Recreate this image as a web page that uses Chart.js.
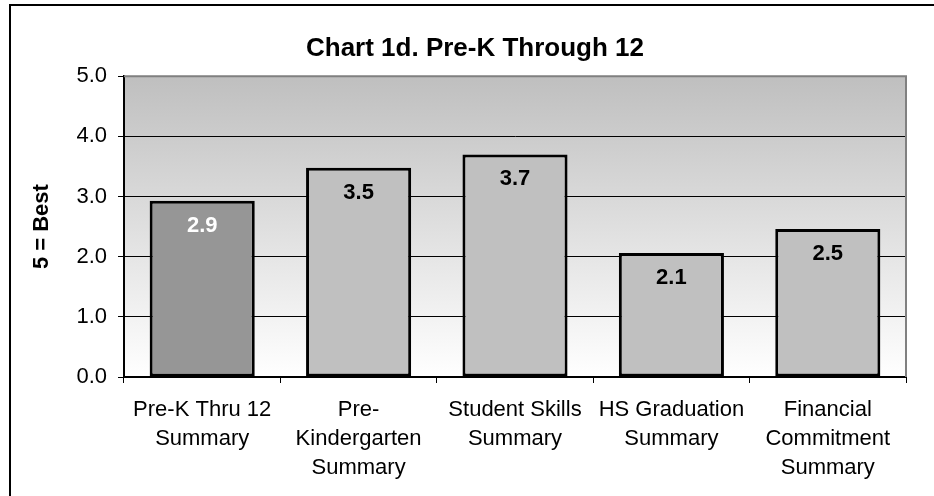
<!DOCTYPE html>
<html>
<head>
<meta charset="utf-8">
<script src="https://cdn.jsdelivr.net/npm/chart.js@4.4.1/dist/chart.umd.min.js"></script>
<style>
  html, body { margin: 0; padding: 0; background: #fff; }
  #wrap { position: relative; width: 934px; height: 496px; }
</style>
</head>
<body>
<div id="wrap"><canvas id="chart"></canvas></div>
<script>
/* ===========================
   DATA
=========================== */
const categories = [
  ["Pre-K Thru 12", "Summary"],
  ["Pre-", "Kindergarten", "Summary"],
  ["Student Skills", "Summary"],
  ["HS Graduation", "Summary"],
  ["Financial", "Commitment", "Summary"]
];
const scores = [2.93, 3.48, 3.70, 2.06, 2.46];
const yTicks = [0, 1, 2, 3, 4, 5];

const FONT = "'Liberation Sans', Arial, Helvetica, sans-serif";

/* ===========================
   PLUGINS
=========================== */
// frame + gradient plot background
const frame = {
  id: "frame",
  beforeDraw(chart) {
    const { ctx, chartArea: a } = chart;
    ctx.save();
    ctx.fillStyle = "#fff";
    ctx.fillRect(0, 0, chart.width, chart.height);
    ctx.fillStyle = "#000";
    ctx.fillRect(9, 4, chart.width - 9, 2);
    ctx.fillRect(9, 4, 2, chart.height - 4);
    const g = ctx.createLinearGradient(0, a.top, 0, a.bottom);
    g.addColorStop(0, "#bfbfbf");
    g.addColorStop(1, "#ffffff");
    ctx.fillStyle = g;
    ctx.fillRect(a.left, a.top, a.right - a.left, a.bottom - a.top);
    ctx.restore();
  },
  beforeDatasetsDraw(chart) {
    const { ctx, chartArea: a } = chart;
    ctx.save();
    ctx.strokeStyle = "#808080";
    ctx.lineWidth = 2;
    ctx.beginPath();
    ctx.moveTo(a.left, a.top);
    ctx.lineTo(a.right, a.top);
    ctx.lineTo(a.right, a.bottom);
    ctx.stroke();
    ctx.restore();
  }
};

// value labels inside the bars
const barLabels = {
  id: "barLabels",
  afterDatasetsDraw(chart) {
    const { ctx } = chart;
    const meta = chart.getDatasetMeta(0);
    ctx.save();
    ctx.font = "bold 22px " + FONT;
    ctx.textAlign = "center";
    ctx.textBaseline = "middle";
    meta.data.forEach((bar, i) => {
      ctx.fillStyle = i === 0 ? "#fff" : "#000";
      ctx.fillText(scores[i].toFixed(1), bar.x, bar.y + 25);
    });
    ctx.restore();
  }
};

/* ===========================
   CHART
=========================== */
new Chart(document.getElementById("chart"), {
  type: "bar",
  data: {
    labels: categories,
    datasets: [{
      data: scores,
      backgroundColor: ctx => ctx.dataIndex === 0 ? "#969696" : "#c0c0c0",
      borderColor: "#000",
      borderWidth: 3,
      borderSkipped: false,
      barPercentage: 0.672,
      categoryPercentage: 1
    }]
  },
  options: {
    responsive: true,
    maintainAspectRatio: false,
    animation: false,
    events: [],
    layout: { padding: { left: 44, right: 28, top: 0, bottom: 0 } },
    plugins: {
      legend: { display: false },
      tooltip: { enabled: false },
      title: {
        display: true,
        text: "Chart 1d. Pre-K Through 12",
        color: "#000",
        font: { family: FONT, size: 26, weight: "bold", lineHeight: 1.2 },
        padding: { top: 33, bottom: 12 }
      }
    },
    scales: {
      x: {
        afterFit: s => { s.height = 119; },
        grid: { drawOnChartArea: false, color: "#000", tickLength: 6 },
        border: { color: "#000", width: 2 },
        ticks: {
          color: "#000",
          padding: 12,
          maxRotation: 0,
          autoSkip: false,
          font: { family: FONT, size: 22, lineHeight: 1.32 }
        }
      },
      y: {
        min: 0,
        max: 5,
        afterFit: s => { s.width = 80; },
        afterBuildTicks: s => { s.ticks = yTicks.map(v => ({ value: v })); },
        grid: {
          color: c => c.tick && c.tick.value === 5 ? "rgba(0,0,0,0)" : "#000",
          tickColor: "#000",
          tickLength: 6
        },
        border: { color: "#000", width: 2 },
        ticks: {
          color: "#000",
          padding: 11,
          font: { family: FONT, size: 22 },
          callback: v => Number(v).toFixed(1)
        },
        title: {
          display: true,
          text: "5 = Best",
          color: "#000",
          font: { family: FONT, size: 22, weight: "bold", lineHeight: 1.2 },
          padding: { top: -15, bottom: 0 }
        }
      }
    }
  },
  plugins: [frame, barLabels]
});
</script>
</body>
</html>
